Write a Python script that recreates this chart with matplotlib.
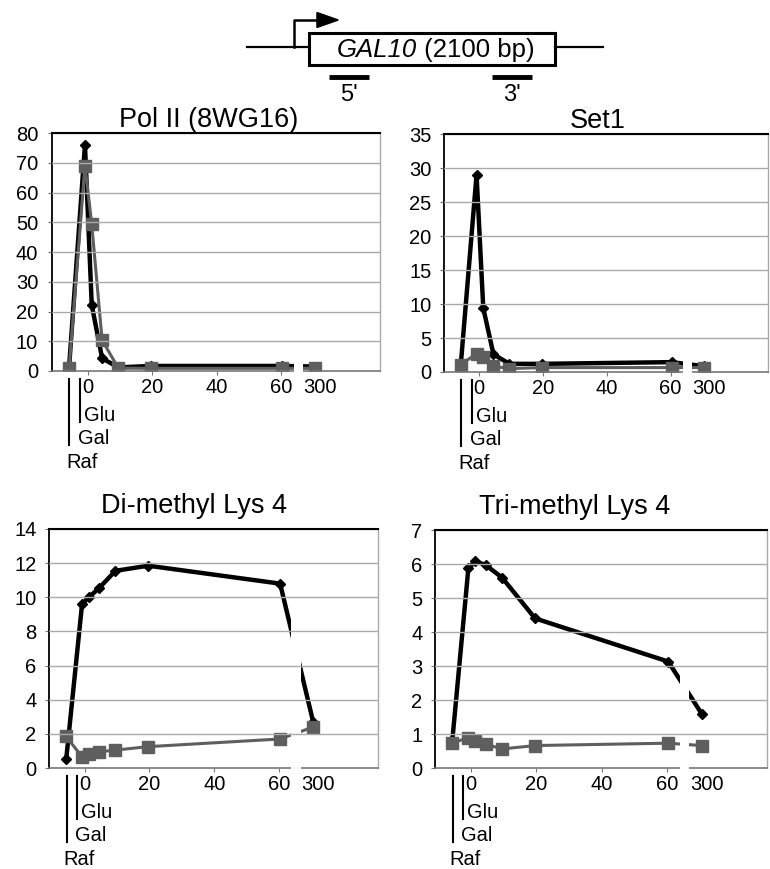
import matplotlib.pyplot as plt
from matplotlib.patches import Rectangle, Polygon

plt.rcParams['font.family'] = ['Liberation Sans', 'DejaVu Sans']

# ── Data ───────────────────────────────────────────────────────────────────
# sample positions along the broken time axis (Raf, Gal, then min after Glu);
# the 300 min sample sits just past the axis break
time_pos = [-5.7, -0.8, 1.3, 4.5, 9.5, 19.6, 60.3, 70.5]
x_ticks = [0, 20, 40, 60, 72]
x_tick_labels = ["0", "20", "40", "60", "300"]

titles = ["Pol II (8WG16)", "Set1", "Di-methyl Lys 4", "Tri-methyl Lys 4"]

polii_5p = [1.5, 76, 22.2, 4.3, 1.2, 1.7, 1.7, 1.5]
polii_3p = [1.0, 69, 49.3, 10.4, 1.0, 0.9, 0.9, 0.9]
set1_5p = [1.3, 29, 9.4, 2.6, 1.2, 1.2, 1.45, 0.85]
set1_3p = [1.1, 2.7, 2.2, 0.85, 0.5, 0.65, 0.65, 0.65]
dimeth_5p = [0.5, 9.6, 10.0, 10.55, 11.55, 11.85, 10.8, 2.7]
dimeth_3p = [1.85, 0.65, 0.8, 0.95, 1.05, 1.25, 1.7, 2.4]
trimeth_5p = [0.82, 5.87, 6.08, 5.97, 5.6, 4.4, 3.13, 1.6]
trimeth_3p = [0.74, 0.89, 0.79, 0.7, 0.56, 0.66, 0.73, 0.66]

y_max = [80, 35, 14, 7]
y_step = [10, 5, 2, 1]

# gene schematic (bp)
gene_len = 2100
flank = (-530, 2510)
tss = -128
probe_5p = (170, 510)
probe_3p = (1560, 1900)

# ── Layout ─────────────────────────────────────────────────────────────────
W, H = 770, 869
fig = plt.figure(figsize=(W / 100, H / 100), dpi=100)

rects_px = [(52, 133, 328, 238), (444, 134, 324, 238),
            (49, 529, 329, 239), (435, 530, 332, 238)]
title_xy = [(0.476, 1.025), (0.475, 1.025), (0.44, 1.067), (0.42, 1.067)]

BLACK = "#000000"
GRAY = "#5e5e5e"
GRID = "#a9a9a9"
FS_TICK = 14.5
FS_TITLE = 19.5

series = [(polii_5p, polii_3p), (set1_5p, set1_3p),
          (dimeth_5p, dimeth_3p), (trimeth_5p, trimeth_3p)]

for i, (l, t, w, h) in enumerate(rects_px):
    ax = fig.add_axes([l / W, 1 - (t + h) / H, w / W, h / H])
    black, gray = series[i]

    ax.plot(time_pos, black, color=BLACK, lw=3.2, marker="D", ms=5.5, zorder=2)
    ax.plot(time_pos, gray, color=GRAY, lw=2.2, marker="s", ms=8,
            mec=GRAY, zorder=2.1)

    ax.set_xlim(-11, 90.5)
    ax.set_ylim(0, y_max[i])
    yt = list(range(0, y_max[i] + 1, y_step[i]))
    ax.set_yticks(yt)
    for v in yt[1:]:
        ax.axhline(v, color=GRID, lw=1, zorder=4)

    # axis break between 60 and 300
    ax.add_patch(Rectangle((63.8, -0.02), 3.0, 0.985, facecolor="white",
                           edgecolor="none", transform=ax.get_xaxis_transform(),
                           clip_on=False, zorder=3))

    ax.set_xticks(x_ticks)
    ax.set_xticklabels(x_tick_labels)
    ax.xaxis.get_major_ticks()[-1].tick1line.set_visible(False)
    ax.tick_params(axis="x", direction="out", length=3, color="#777777",
                   labelsize=FS_TICK, pad=2)
    ax.tick_params(axis="y", direction="out", length=3, color="#777777",
                   labelsize=FS_TICK, pad=7 if i == 0 else 6)

    ax.spines["left"].set_color(BLACK)
    ax.spines["left"].set_linewidth(1.3)
    ax.spines["top"].set_color(BLACK)
    ax.spines["top"].set_linewidth(1.5)
    ax.spines["top"].set_zorder(5)
    ax.spines["bottom"].set_color("#777777")
    ax.spines["bottom"].set_linewidth(1.2)
    ax.spines["right"].set_color("#aaaaaa")
    ax.spines["right"].set_linewidth(1)

    tx, ty = title_xy[i]
    ax.text(tx, ty, titles[i], transform=ax.transAxes, ha="center",
            va="baseline", fontsize=FS_TITLE)

    # Raf / Gal / Glu markers under the axis
    tr = ax.get_xaxis_transform()
    ax.plot([-2.3, -2.3], [-8 / h, -51 / h], transform=tr, clip_on=False,
            color=BLACK, lw=1.5)
    ax.plot([-5.6, -5.6], [-8 / h, -74 / h], transform=tr, clip_on=False,
            color=BLACK, lw=1.5)
    ax.text(-1.1, -50 / h, "Glu", transform=tr, ha="left", va="baseline",
            fontsize=FS_TICK)
    ax.text(-3.0, -73 / h, "Gal", transform=tr, ha="left", va="baseline",
            fontsize=FS_TICK)
    ax.text(-6.5, -97 / h, "Raf", transform=tr, ha="left", va="baseline",
            fontsize=FS_TICK)

# ── Gene schematic ─────────────────────────────────────────────────────────
gax = fig.add_axes([240 / W, 1 - 110 / H, 380 / W, 110 / H])
gax.set_xlim(-589, 2655)
gax.set_ylim(110, 0)
gax.axis("off")

y_mid = 46.7
gax.plot([flank[0], 0], [y_mid, y_mid], color=BLACK, lw=1.6)
gax.plot([gene_len, flank[1]], [y_mid, y_mid], color=BLACK, lw=1.6)
gax.add_patch(Rectangle((0, 33), gene_len, 32, fill=False, lw=2.2,
                        edgecolor=BLACK))
gax.plot([tss, tss, 80], [y_mid, 20, 20], color=BLACK, lw=1.8)
gax.add_patch(Polygon([(68, 12.5), (250, 20), (68, 27.5)], closed=True,
                      color=BLACK))
name = gax.text(235, 57, "GAL10", ha="left", va="baseline", fontsize=18.5,
                style="italic")
gax.annotate(" (2100 bp)", xy=(1, 0), xycoords=name, ha="left", va="bottom",
             fontsize=18.5)
gax.plot(probe_5p, [77, 77], color=BLACK, lw=3.5, solid_capstyle="butt")
gax.plot(probe_3p, [77, 77], color=BLACK, lw=3.5, solid_capstyle="butt")
gax.text(sum(probe_5p) / 2, 95, "5'", ha="center", va="center", fontsize=17)
gax.text(sum(probe_3p) / 2, 95, "3'", ha="center", va="center", fontsize=17)

fig.savefig("out.png", dpi=100)
